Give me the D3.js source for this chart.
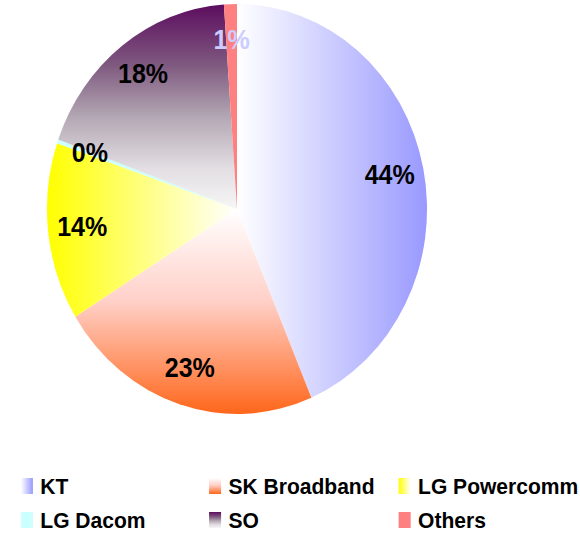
<!DOCTYPE html>
<meta charset="utf-8">
<script src="https://cdn.jsdelivr.net/npm/d3@7"></script>
<style>
  body { margin: 0; background: #fff; }
  text { font-family: "Liberation Sans", Arial, sans-serif; font-weight: bold; }
</style>
<div id="vis"></div>
<script>
// market share (%)
const categories = ["KT", "SK Broadband", "LG Powercomm", "LG Dacom", "SO", "Others"]
const shares = [43.6, 22.6, 14.0, 0.3, 18.4, 1.1]

const width = 580, height = 533
const squeeze = 0.927          // the original image is a bit narrower than tall
const R = 205
const cx = 237, cy = 209

// gradient per slice: stops and direction
const fills = {
  "KT":           { stops: [["0%", "#ffffff"], ["100%", "#9999ff"]], dir: [0, 0, R, 0] },
  "SK Broadband": { stops: [["0%", "#ffffff"], ["45%", "#ffd0c8"], ["100%", "#ff661a"]], dir: [0, 0, 0, R] },
  "LG Powercomm": { stops: [["0%", "#ffff00"], ["100%", "#ffffff"]], dir: [-R, 0, 0, 0] },
  "LG Dacom":     { stops: [["0%", "#ccffff"], ["100%", "#ccffff"]], dir: [0, 0, R, 0] },
  "SO":           { stops: [["0%", "#5c0c5e"], ["30%", "#7f5a80"], ["55%", "#b3a7b3"], ["80%", "#e2dee2"], ["100%", "#f6f6f6"]], dir: [0, -R, 0, 0] },
  "Others":       { stops: [["0%", "#ff8080"], ["100%", "#ff8080"]], dir: [0, 0, R, 0] }
}
const labelColor = d => d === "Others" ? "#ccccff" : "#000"

const data = categories.map((c, i) => ({ name: c, value: shares[i] }))

const svg = d3.select("#vis").append("svg")
  .attr("width", width).attr("height", height)
const defs = svg.append("defs")

categories.forEach((c, i) => {
  const f = fills[c]
  const g = defs.append("linearGradient").attr("id", "pie" + i)
    .attr("gradientUnits", "userSpaceOnUse")
    .attr("x1", f.dir[0]).attr("y1", f.dir[1]).attr("x2", f.dir[2]).attr("y2", f.dir[3])
  f.stops.forEach(s => g.append("stop").attr("offset", s[0]).attr("stop-color", s[1]))
  // swatch version, bounding box based
  const dx = f.dir[2] - f.dir[0], dy = f.dir[3] - f.dir[1]
  const n = Math.hypot(dx, dy)
  const sw = defs.append("linearGradient").attr("id", "sw" + i)
    .attr("x1", dx < 0 ? 1 : 0).attr("y1", dy < 0 ? 1 : 0)
    .attr("x2", dx < 0 ? 0 : Math.abs(dx) / n).attr("y2", dy < 0 ? 0 : Math.abs(dy) / n)
  f.stops.forEach(s => sw.append("stop").attr("offset", s[0]).attr("stop-color", s[1]))
})

const pie = d3.pie().sort(null).value(d => d.value)
const arc = d3.arc().innerRadius(0).outerRadius(R)
const labelArc = d3.arc().innerRadius(R * 0.82).outerRadius(R * 0.82)

const g = svg.append("g")
  .attr("transform", `translate(${cx},${cy}) scale(${squeeze},1)`)

const arcs = pie(data)
g.selectAll("path")
  .data(arcs)
  .enter()
  .append("path")
  .attr("d", arc)
  .attr("fill", (d, i) => `url(#pie${i})`)

g.selectAll("text")
  .data(arcs)
  .enter()
  .append("text")
  .attr("transform", d => `translate(${labelArc.centroid(d)})`)
  .attr("text-anchor", "middle")
  .attr("dy", "0.3em")
  .attr("font-size", 27)
  .attr("fill", d => labelColor(d.data.name))
  .text(d => Math.round(d.data.value) + "%")

// legend: 3 columns x 2 rows
const colX = [22.5, 225.5, 430]
const rowY = [494, 528]
const legend = svg.append("g").attr("transform", `scale(${squeeze},1)`)
const items = legend.selectAll("g")
  .data(categories)
  .enter()
  .append("g")
  .attr("transform", (d, i) => `translate(${colX[i % 3]},${rowY[Math.floor(i / 3)]})`)
items.append("rect")
  .attr("x", 0).attr("y", -16)
  .attr("width", 13).attr("height", 16)
  .attr("fill", (d, i) => `url(#sw${i})`)
items.append("text")
  .attr("x", 21)
  .attr("font-size", 22.7)
  .attr("fill", "#000")
  .text(d => d)
</script>
